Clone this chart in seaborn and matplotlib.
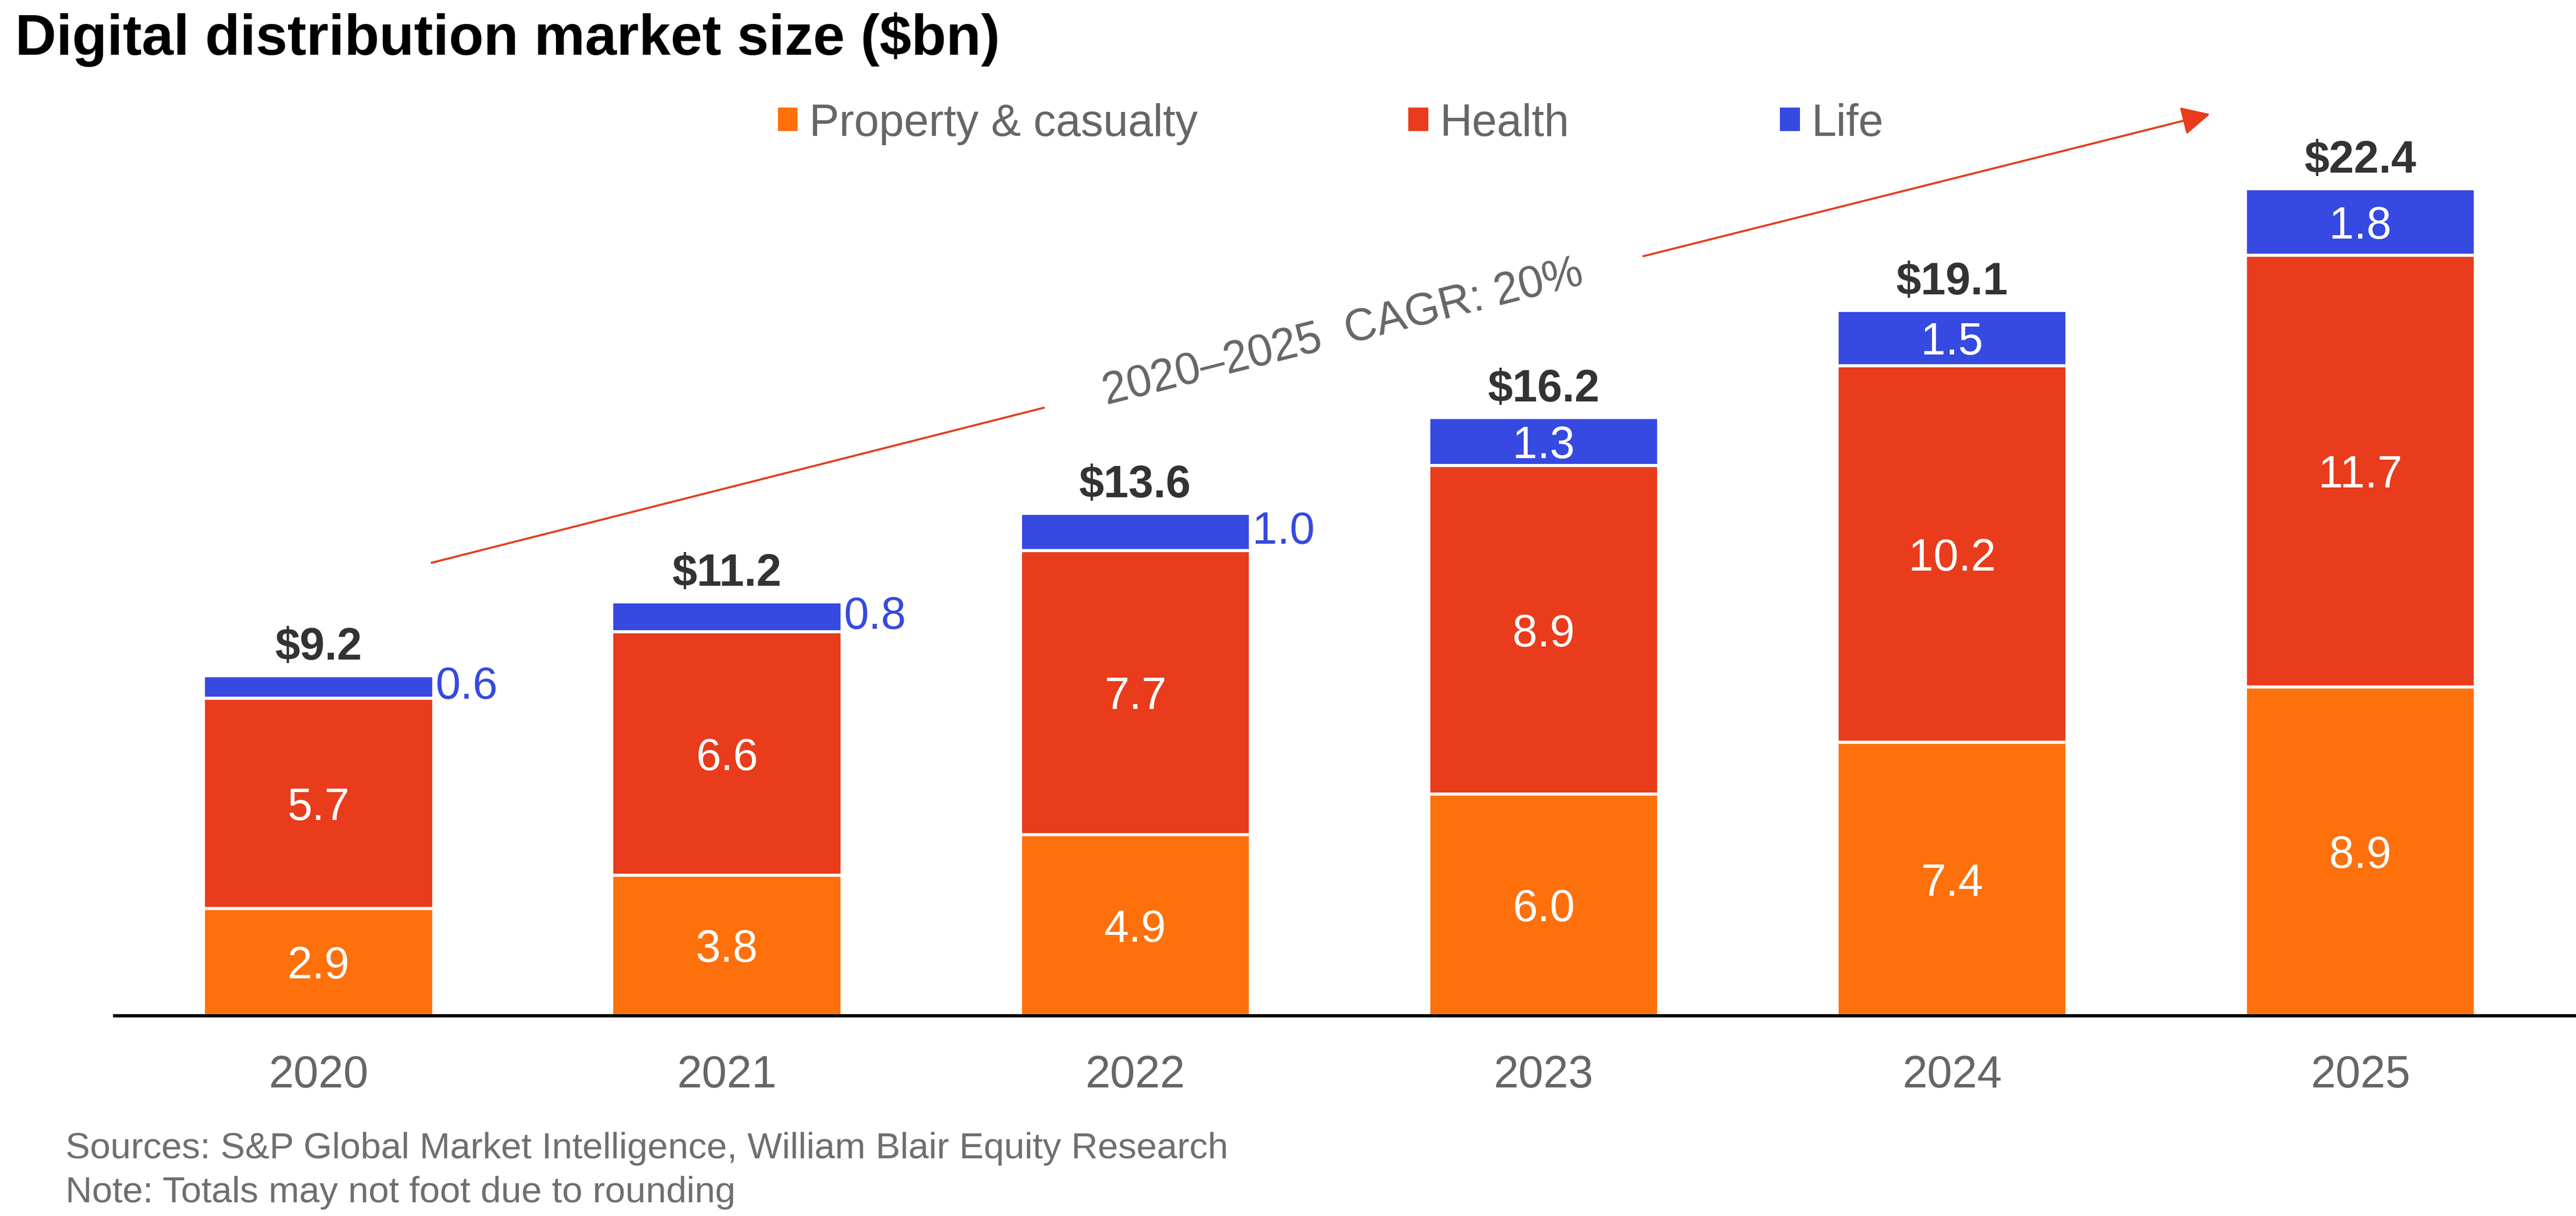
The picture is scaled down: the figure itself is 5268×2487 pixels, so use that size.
import matplotlib
matplotlib.use("Agg")
import matplotlib.pyplot as plt
from matplotlib.patches import Patch
import seaborn as sns

# ---------------- data ----------------
years = ["2020", "2021", "2022", "2023", "2024", "2025"]
property_casualty = [2.9, 3.8, 4.9, 6.0, 7.4, 8.9]
health = [5.7, 6.6, 7.7, 8.9, 10.2, 11.7]
life = [0.6, 0.8, 1.0, 1.3, 1.5, 1.8]
totals = [9.2, 11.2, 13.6, 16.2, 19.1, 22.4]
series_names = ["Property & casualty", "Health", "Life"]
cagr_label = "2020\u20132025  CAGR: 20%"
source_note = "Sources: S&P Global Market Intelligence, William Blair Equity Research"
rounding_note = "Note: Totals may not foot due to rounding"
title = "Digital distribution market size ($bn)"

# ---------------- style ----------------
C_PC = "#fd700c"
C_HEALTH = "#e83c1c"
C_LIFE = "#3649e0"
C_ARROW = "#e83c1c"
GREY = "#666666"
W = 0.563
FS = 22

sns.set_style("white")
plt.rcParams["font.family"] = ["Liberation Sans", "DejaVu Sans"]

fig = plt.figure(figsize=(17.56, 8.2933), dpi=300)
ax = fig.add_axes([0.0444, 0.1648, 0.9556, 0.7738])

bottom_h = property_casualty
bottom_l = [p + h for p, h in zip(property_casualty, health)]

common = dict(width=W, saturation=1, errorbar=None, edgecolor="white",
              linewidth=1.5, ax=ax)
sns.barplot(x=years, y=property_casualty, color=C_PC, **common)
sns.barplot(x=years, y=health, bottom=bottom_h, color=C_HEALTH, **common)
sns.barplot(x=years, y=life, bottom=bottom_l, color=C_LIFE, **common)

ax.set_xlim(-0.5, 5.528)
ax.set_ylim(0, 25.5)
ax.set_yticks([])
ax.set_xlabel("")
ax.set_ylabel("")
ax.tick_params(axis="x", length=0, pad=19, labelsize=FS, labelcolor=GREY)
sns.despine(ax=ax, left=True)
ax.spines["bottom"].set_color("black")
ax.spines["bottom"].set_linewidth(1.6)

# segment labels
cap = 0.716 * FS / 2
for i in range(len(years)):
    ax.annotate(f"{property_casualty[i]:.1f}", (i, property_casualty[i] / 2),
                xytext=(0, -cap), textcoords="offset points",
                ha="center", va="baseline", color="white", fontsize=FS)
    ax.annotate(f"{health[i]:.1f}", (i, bottom_h[i] + health[i] / 2),
                xytext=(0, -cap), textcoords="offset points",
                ha="center", va="baseline", color="white", fontsize=FS)
    if life[i] < 1.2:
        ax.annotate(f"{life[i]:.1f}", (i + W / 2, bottom_l[i] + life[i] / 2),
                    xytext=(1, -5.5), textcoords="offset points",
                    ha="left", va="baseline", color=C_LIFE, fontsize=FS)
    else:
        ax.annotate(f"{life[i]:.1f}", (i, bottom_l[i] + life[i] / 2),
                    xytext=(0, -cap), textcoords="offset points",
                    ha="center", va="baseline", color="white", fontsize=FS)
    ax.annotate(f"${totals[i]:.1f}", (i, totals[i]),
                xytext=(0, 8.2), textcoords="offset points",
                ha="center", va="baseline", color="#333333",
                fontsize=FS, fontweight="bold")

# CAGR arrow (broken around the label)
ax.plot([0.275, 1.778], [12.26, 16.47], color=C_ARROW, lw=1.0,
        solid_capstyle="butt")
ax.annotate("", xy=(4.632, 24.42), xytext=(3.244, 20.57),
            arrowprops=dict(arrowstyle="-|>", color=C_ARROW, lw=1.0,
                            mutation_scale=30, shrinkA=0, shrinkB=0),
            annotation_clip=False)
ax.text(2.508, 18.5, cagr_label, rotation=14.2, ha="center", va="center",
        color=GREY, fontsize=FS)

# legend
handles = [Patch(facecolor=c, edgecolor="none", label=n)
           for c, n in zip([C_PC, C_HEALTH, C_LIFE], series_names)]
leg = fig.legend(handles=handles, loc="center left", bbox_to_anchor=(0.302, 0.898),
                 ncol=3, frameon=False, fontsize=FS, handlelength=0.44,
                 handleheight=0.44, handletextpad=0.26, columnspacing=4.7,
                 borderpad=0, borderaxespad=0)
for t in leg.get_texts():
    t.set_color(GREY)

fig.text(0.0059, 0.955, title, fontsize=28, fontweight="bold",
         color="black", va="baseline", ha="left")
fig.text(0.0254, 0.0478, source_note, fontsize=18.0, color="#6f6f6f",
         va="baseline", ha="left")
fig.text(0.0254, 0.0117, rounding_note, fontsize=18.0, color="#6f6f6f",
         va="baseline", ha="left")

fig.savefig("out.png", dpi=300)
